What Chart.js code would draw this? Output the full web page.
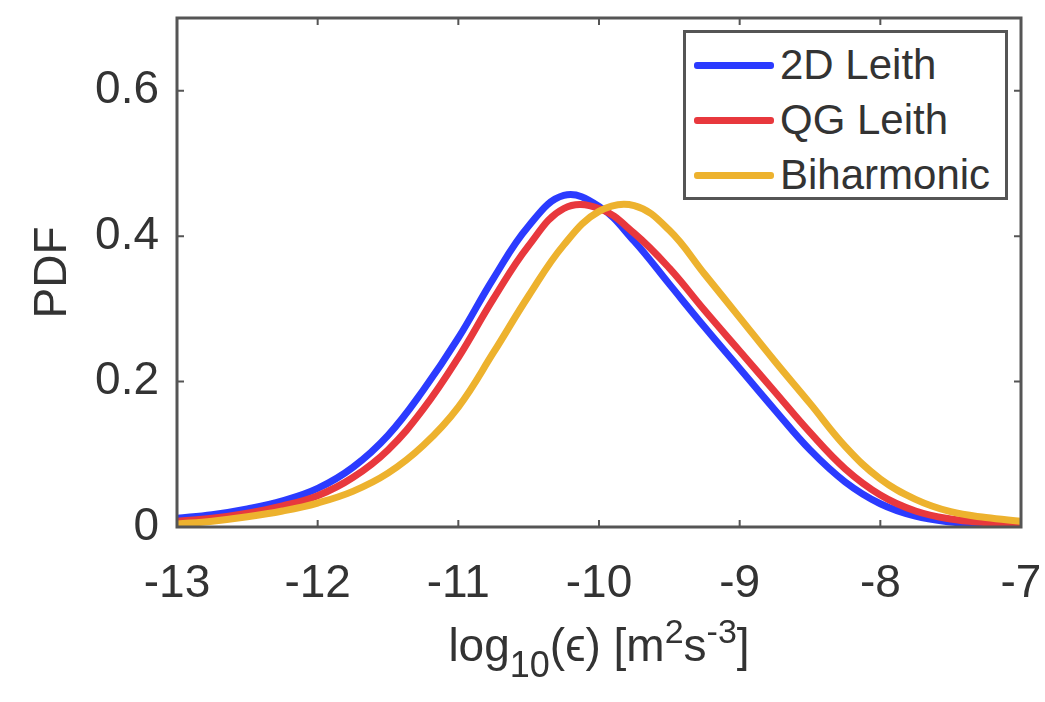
<!DOCTYPE html>
<html>
<head>
<meta charset="utf-8">
<script src="https://cdn.jsdelivr.net/npm/chart.js@4.4.1/dist/chart.umd.min.js"></script>
<style>
  html, body { margin: 0; padding: 0; background: #fff; }
  #wrap { position: relative; width: 1045px; height: 702px; font-family: "Liberation Sans", Arial, sans-serif; color: #333; }
  #legend {
    position: absolute; left: 683px; top: 30px; width: 319px; height: 164px;
    border: 3px solid #555; background: #fff; box-sizing: content-box;
  }
  .legend-row { position: absolute; left: 8px; height: 50px; display: flex; align-items: center; }
  .legend-row .swatch { width: 80px; height: 7px; border-radius: 3px; margin-right: 6px; }
  .legend-row span { font-size: 42px; line-height: 50px; color: #333; }
  #xtitle {
    position: absolute; left: 0; width: 1198px; top: 615px; text-align: center;
    font-size: 46px; line-height: 60px; color: #333; white-space: nowrap;
  }
  #xtitle sub { font-size: 36px; vertical-align: -16px; line-height: 0; }
  #xtitle sup { font-size: 34px; vertical-align: 18px; line-height: 0; }
</style>
</head>
<body>
<div id="wrap">
  <canvas id="pdf-chart" width="1045" height="702"></canvas>
  <div id="legend"></div>
  <div id="xtitle">log<sub>10</sub>(ϵ) [m<sup>2</sup>s<sup>-3</sup>]</div>
</div>
<script>
// x positions (log10 of dissipation) where the curves were read
const xValues = [-13, -12.75, -12.5, -12.25, -12, -11.75, -11.5, -11.25, -11, -10.75, -10.5, -10.25,
                 -10, -9.75, -9.5, -9.25, -9, -8.75, -8.5, -8.25, -8, -7.75, -7.5, -7.25, -7];

const leith2d = [0.012, 0.017, 0.025, 0.036, 0.053, 0.082, 0.126, 0.188, 0.260, 0.342, 0.414, 0.456,
                 0.441, 0.393, 0.334, 0.275, 0.218, 0.161, 0.106, 0.062, 0.032, 0.015, 0.007, 0.003, 0.001];
const leithQG = [0.008, 0.012, 0.019, 0.029, 0.043, 0.068, 0.106, 0.162, 0.233, 0.314, 0.387, 0.438,
                 0.438, 0.404, 0.356, 0.298, 0.242, 0.186, 0.130, 0.080, 0.044, 0.022, 0.011, 0.006, 0.003];
const biharmonic = [0.004, 0.008, 0.014, 0.022, 0.033, 0.049, 0.074, 0.112, 0.165, 0.240, 0.318, 0.388,
                    0.434, 0.442, 0.408, 0.348, 0.288, 0.228, 0.170, 0.111, 0.066, 0.038, 0.021, 0.013, 0.008];

const seriesNames = ['2D Leith', 'QG Leith', 'Biharmonic'];
const seriesColors = ['#2b3bff', '#e8383d', '#edb22e'];

const xTicks = [-13, -12, -11, -10, -9, -8, -7];
const yTicks = [0, 0.2, 0.4, 0.6];

function toPoints(ys) {
    return xValues.map((x, i) => ({ x: x, y: ys[i] }));
}

// MATLAB-style box: frame on all four sides with inward ticks
const boxPlugin = {
    id: 'boxFrame',
    afterDraw(chart) {
        const { ctx, chartArea: a, scales } = chart;
        ctx.save();
        ctx.strokeStyle = '#555';
        ctx.lineWidth = 3;
        ctx.strokeRect(a.left, a.top, a.right - a.left, a.bottom - a.top);
        ctx.lineWidth = 2;
        const len = 7;
        ctx.beginPath();
        xTicks.forEach(v => {
            const px = scales.x.getPixelForValue(v);
            ctx.moveTo(px, a.bottom); ctx.lineTo(px, a.bottom - len);
            ctx.moveTo(px, a.top); ctx.lineTo(px, a.top + len);
        });
        yTicks.forEach(v => {
            const py = scales.y.getPixelForValue(v);
            ctx.moveTo(a.left, py); ctx.lineTo(a.left + len, py);
            ctx.moveTo(a.right, py); ctx.lineTo(a.right - len, py);
        });
        ctx.stroke();
        ctx.restore();
    }
};

const datasets = [leith2d, leithQG, biharmonic].map((ys, i) => ({
    label: seriesNames[i],
    data: toPoints(ys),
    borderColor: seriesColors[i],
    borderWidth: 7,
    pointRadius: 0,
    tension: 0.4,
    fill: false,
    order: 3 - i
}));

const tickFont = { family: '"Liberation Sans", Arial, sans-serif', size: 46 };

new Chart(document.getElementById('pdf-chart').getContext('2d'), {
    type: 'line',
    data: { datasets },
    options: {
        responsive: false,
        animation: false,
        layout: { autoPadding: false, padding: { left: 0, top: 18, right: 24, bottom: 0 } },
        plugins: { legend: { display: false }, tooltip: { enabled: false } },
        scales: {
            x: {
                type: 'linear', min: -13, max: -7,
                afterBuildTicks: s => { s.ticks = xTicks.map(v => ({ value: v })); },
                afterFit: s => { s.height = 175; s.paddingLeft = 0; s.paddingRight = 0; },
                grid: { display: false, drawTicks: false },
                border: { display: false },
                ticks: { font: tickFont, color: '#333', padding: 30, maxRotation: 0, callback: v => String(v) }
            },
            y: {
                type: 'linear', min: 0, max: 0.7,
                afterBuildTicks: s => { s.ticks = yTicks.map(v => ({ value: v })); },
                afterFit: s => { s.width = 177; s.paddingTop = 0; s.paddingBottom = 0; },
                grid: { display: false, drawTicks: false },
                border: { display: false },
                ticks: { font: tickFont, color: '#333', padding: 18, callback: v => String(v) },
                title: { display: true, text: 'PDF', font: tickFont, color: '#333', padding: { top: 26, bottom: 0 } }
            }
        }
    },
    plugins: [boxPlugin]
});

// legend box inside the axes (upper right), as in the original figure
const legendEl = document.getElementById('legend');
seriesNames.forEach((name, i) => {
    const row = document.createElement('div');
    row.className = 'legend-row';
    row.style.top = (7 + i * 55) + 'px';
    row.innerHTML = `<div class="swatch" style="background:${seriesColors[i]}"></div><span>${name}</span>`;
    legendEl.appendChild(row);
});
</script>
</body>
</html>
